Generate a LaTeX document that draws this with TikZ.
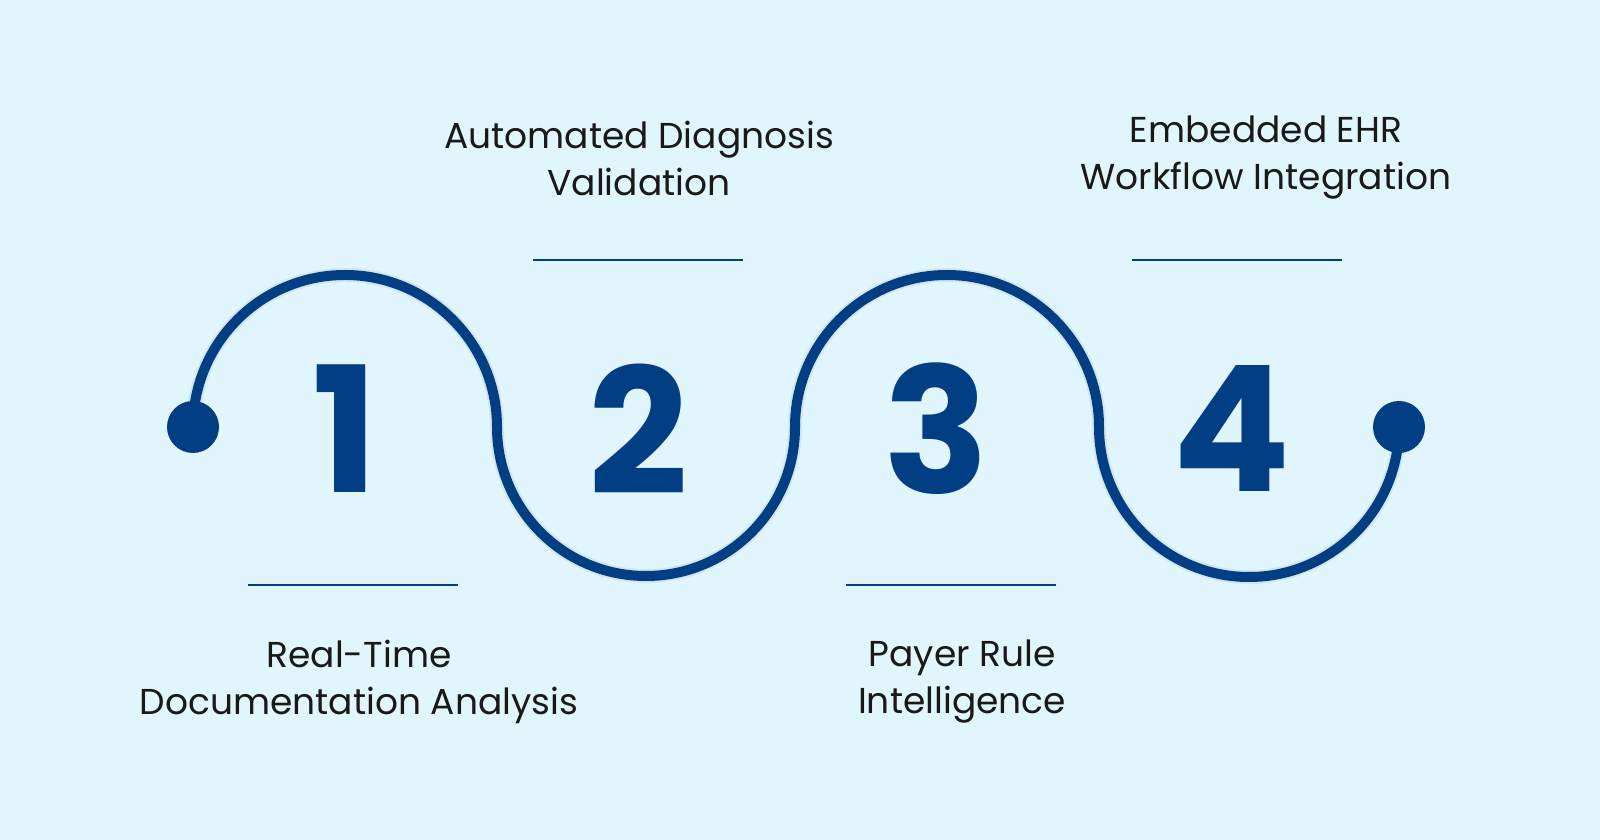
\documentclass[tikz,border=0pt]{standalone}
\usepackage{fontspec}
\setmainfont{Poppins}
\newfontfamily\numfont{Poppins}
\definecolor{bgc}{HTML}{E0F6FC}
\definecolor{navy}{HTML}{023E84}
\begin{document}
\begin{tikzpicture}[x=1pt,y=1pt,
  lbl/.style={align=center,font=\fontsize{36}{47}\selectfont,text=black!90},
  num/.style={font=\numfont\bfseries\fontsize{175}{175}\selectfont,text=navy},
  rule/.style={draw=navy,line width=2.5pt},
  dotc/.style={circle,fill=navy,minimum size=52pt,inner sep=0pt}]
\fill[bgc] (0,0) rectangle (1600,840);
\useasboundingbox (0,0) rectangle (1600,840);
\coordinate (s) at (193,413);
\coordinate (e) at (1399,413);
\draw[line width=14pt,black,opacity=0.06,shift={(4,-8)}] (s) arc[start angle=180,end angle=0,radius=152] arc[start angle=180,end angle=360,radius=149] arc[start angle=180,end angle=0,radius=152] arc[start angle=180,end angle=360,radius=150];
\draw[line width=10pt,navy] (s) arc[start angle=180,end angle=0,radius=152] arc[start angle=180,end angle=360,radius=149] arc[start angle=180,end angle=0,radius=152] arc[start angle=180,end angle=360,radius=150];
\node[dotc] (d1) at (s) {};
\node[dotc] (d2) at (e) {};
\node[num] (n1) at (345,411) {1};
\node[num] (n2) at (638,411) {2};
\node[num] (n3) at (936,411) {3};
\node[num] (n4) at (1232,411) {4};
\node[lbl] (t2) at (639,682) {Automated Diagnosis\\Validation};
\node[lbl] (t4) at (1266,682) {Embedded EHR\\Workflow Integration};
\node[lbl] (t1) at (359,158) {Real-Time\\Documentation Analysis};
\node[lbl] (t3) at (962,158) {Payer Rule\\Intelligence};
\coordinate (a1) at (533,580); \coordinate (a2) at (743,580);
\coordinate (b1) at (1132,580); \coordinate (b2) at (1342,580);
\coordinate (c1) at (248,255); \coordinate (c2) at (458,255);
\coordinate (e1) at (846,255); \coordinate (e2) at (1056,255);
\draw[rule] (a1) -- (a2);
\draw[rule] (b1) -- (b2);
\draw[rule] (c1) -- (c2);
\draw[rule] (e1) -- (e2);
\end{tikzpicture}
\end{document}
